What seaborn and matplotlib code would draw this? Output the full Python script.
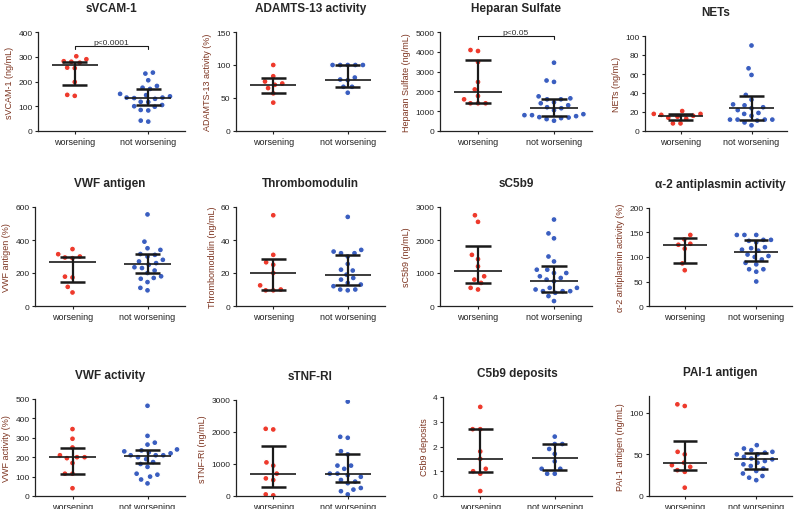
import matplotlib
matplotlib.use("Agg")
import matplotlib.pyplot as plt
import seaborn as sns
import pandas as pd

sns.set_style("ticks")
plt.rcParams['font.family'] = ['Liberation Sans', 'DejaVu Sans']

groups = ["worsening", "not worsening"]
RED = "#EE3A2C"
BLUE = "#3A5EC0"
LABEL_COL = "#7d3420"

# ---------------- data ----------------
svcam_w = [302, 290, 282, 280, 276, 256, 254, 198, 142, 146]
svcam_nw = [232, 236, 205, 182, 175, 170, 150, 145, 140, 135, 135, 133, 130,
            118, 117, 105, 100, 98, 85, 83, 38, 42]
svcam_stats = [(265, 185, 280), (133, 107, 170)]

adamts_w = [100, 83, 75, 72, 70, 65, 57, 43]
adamts_nw = [100, 100, 100, 100, 100, 81, 78, 77, 67, 67, 58]
adamts_stats = [(69, 58, 81), (78, 67, 100)]

hs_w = [4090, 4040, 3485, 2475, 2100, 1770, 1600, 1400, 1400, 1400]
hs_nw = [3450, 2550, 2480, 1750, 1650, 1600, 1600, 1450, 1400, 1300, 1200,
         1150, 1050, 850, 800, 800, 750, 700, 680, 650, 600, 520]
hs_stats = [(1950, 1400, 3600), (1150, 750, 1600)]

nets_w = [21, 18, 18, 17, 16, 15, 14, 13, 8, 8]
nets_nw = [90, 66, 59, 38, 33, 28, 27, 25, 24, 22, 19, 18, 16, 12, 12, 12,
           12, 11, 9, 6]
nets_stats = [(16, 12, 18), (24, 12, 37)]

vwfag_w = [345, 314, 300, 294, 290, 178, 173, 116, 82]
vwfag_nw = [555, 390, 350, 340, 315, 310, 300, 280, 270, 260, 250, 235, 230,
            215, 200, 180, 170, 165, 145, 110, 95]
vwfag_stats = [(265, 148, 298), (255, 198, 313)]

tm_w = [55, 31, 26.5, 25, 20, 12.5, 10, 9.5, 9.5]
tm_nw = [54, 34, 33, 32, 32, 30, 25.5, 22, 21.5, 19, 17, 16, 14, 13, 12, 10,
         10, 9.5]
tm_stats = [(20, 10, 28.5), (19, 13, 31)]

sc5_w = [2750, 2550, 1550, 1420, 1200, 900, 800, 700, 550, 500]
sc5_nw = [2620, 2200, 2050, 1500, 1350, 1100, 1100, 1000, 1000, 900, 850,
          800, 750, 550, 550, 500, 450, 450, 450, 400, 300, 150]
sc5_stats = [(1050, 690, 1810), (770, 420, 1220)]

a2_w = [145, 136, 127, 125, 117, 87, 73]
a2_nw = [145, 145, 145, 135, 135, 133, 130, 120, 118, 115, 113, 105, 102,
         100, 95, 88, 85, 75, 75, 70, 50]
a2_stats = [(124, 87, 138), (110, 92, 134)]

vwfact_w = [345, 295, 250, 210, 200, 200, 195, 170, 115, 115, 40]
vwfact_nw = [465, 310, 275, 265, 240, 235, 230, 225, 220, 210, 210, 210, 200,
             190, 175, 165, 150, 115, 110, 100, 85, 65]
vwfact_stats = [(202, 115, 248), (208, 168, 237)]

tnf_w = [2100, 2080, 1050, 950, 700, 550, 500, 50, 20]
tnf_nw = [2950, 1850, 1820, 1400, 1300, 950, 950, 850, 700, 700, 650, 600,
          500, 450, 400, 250, 200, 150, 50]
tnf_stats = [(700, 280, 1560), (680, 440, 1300)]

c5dep_w = [3.6, 2.7, 2.7, 1.8, 1.5, 1.1, 1.0, 0.9, 0.2]
c5dep_nw = [2.4, 2.1, 2.1, 1.9, 1.7, 1.4, 1.1, 1.1, 0.9, 0.9]
c5dep_stats = [(1.5, 0.95, 2.7), (1.55, 1.07, 2.1)]

pai_w = [110, 108, 53, 50, 40, 37, 35, 31, 29, 10]
pai_nw = [61, 57, 55, 53, 52, 50, 50, 47, 45, 44, 42, 40, 38, 36, 33, 30, 27,
          24, 22, 19]
pai_stats = [(40, 31, 66), (45, 32, 52)]

titles = ["sVCAM-1", "ADAMTS-13 activity", "Heparan Sulfate", "NETs",
          "VWF antigen", "Thrombomodulin", "sC5b9", "\u03b1-2 antiplasmin activity",
          "VWF activity", "sTNF-RI", "C5b9 deposits", "PAI-1 antigen"]
ylabels = ["sVCAM-1 (ng/mL)", "ADAMTS-13 activity (%)", "Heparan Sulfate (ng/mL)",
           "NETs (ng/mL)", "VWF antigen (%)", "Thrombomodulin (ng/mL)",
           "sC5b9 (ng/mL)", "\u03b1-2 antiplasmin activity (%)", "VWF activity (%)",
           "sTNF-RI (ng/mL)", "C5b9 deposits", "PAI-1 antigen (ng/mL)"]
yticks = [[0, 100, 200, 300, 400], [0, 50, 100, 150],
          [0, 1000, 2000, 3000, 4000, 5000], [0, 20, 40, 60, 80, 100],
          [0, 200, 400, 600], [0, 20, 40, 60], [0, 1000, 2000, 3000],
          [0, 50, 100, 150, 200], [0, 100, 200, 300, 400, 500],
          [0, 1000, 2000, 3000], [0, 1, 2, 3, 4], [0, 50, 100]]
ytops = [400, 150, 5000, 100, 600, 60, 3000, 200, 500, 3000, 4, 120]
series = [(svcam_w, svcam_nw, svcam_stats), (adamts_w, adamts_nw, adamts_stats),
          (hs_w, hs_nw, hs_stats), (nets_w, nets_nw, nets_stats),
          (vwfag_w, vwfag_nw, vwfag_stats), (tm_w, tm_nw, tm_stats),
          (sc5_w, sc5_nw, sc5_stats), (a2_w, a2_nw, a2_stats),
          (vwfact_w, vwfact_nw, vwfact_stats), (tnf_w, tnf_nw, tnf_stats),
          (c5dep_w, c5dep_nw, c5dep_stats), (pai_w, pai_nw, pai_stats)]
# significance brackets: panel index -> (text, bracket level, tick bottom)
sig = {0: ("p<0.0001", 342, 330), 2: ("p<0.05", 4800, 4650)}

# ---------------- layout (pixel boxes: left, right, top, bottom) ----------------
W, H = 800, 510
boxes = [(38, 185, 33, 132), (236, 385, 33, 132), (440, 592, 33, 132), (645, 787, 37, 132),
         (35, 185, 208, 307), (236, 385, 208, 307), (440, 592, 208, 307), (649, 792, 209, 307),
         (35, 185, 400, 497), (236, 385, 401, 497), (443, 592, 398, 497), (649, 792, 397, 497)]

fig = plt.figure(figsize=(8, 5.1), dpi=100)
for i, (w, nw, st) in enumerate(series):
    l, r, t, b = boxes[i]
    ax = fig.add_axes([l / W, (H - b) / H, (r - l) / W, (b - t) / H])
    df = pd.DataFrame({"group": [groups[0]] * len(w) + [groups[1]] * len(nw),
                       "value": list(w) + list(nw)})
    sns.swarmplot(data=df, x="group", y="value", hue="group", order=groups,
                  hue_order=groups, palette=[RED, BLUE], size=4.3, ax=ax,
                  legend=False, zorder=2, edgecolor="white", linewidth=0.9)
    for k, (med, q1, q3) in enumerate(st):
        ax.hlines(med, k - 0.31, k + 0.31, color="#1a1a1a", lw=1.2, zorder=3)
        ax.vlines(k, q1, q3, color="#1a1a1a", lw=1.6, zorder=3)
        ax.hlines([q1, q3], k - 0.17, k + 0.17, color="#1a1a1a", lw=1.8, zorder=3)
    if i in sig:
        txt, lev, lo = sig[i]
        ax.plot([0, 0, 1, 1], [lo, lev, lev, lo], color="#1a1a1a", lw=0.8,
                clip_on=False)
        ax.text(0.5, lev, txt, ha="center", va="bottom", fontsize=6,
                color="#333333")
    ax.set_xlim(-0.5, 1.5)
    ax.set_ylim(0, ytops[i])
    ax.set_yticks(yticks[i])
    ax.set_xlabel("")
    ax.set_ylabel(ylabels[i], fontsize=6.5, color=LABEL_COL, labelpad=3)
    ax.set_title(titles[i], fontsize=8.5, fontweight="bold", pad=15)
    ax.tick_params(axis="y", labelsize=6, length=2.5, width=0.8,
                   colors="#222222", pad=1.5)
    ax.tick_params(axis="x", labelsize=6.5, length=2, width=0.8,
                   colors="#222222", pad=2)
    for s in ["left", "bottom"]:
        ax.spines[s].set_linewidth(0.9)
        ax.spines[s].set_color("#222222")
    sns.despine(ax=ax)

fig.savefig("out.png", dpi=100)
